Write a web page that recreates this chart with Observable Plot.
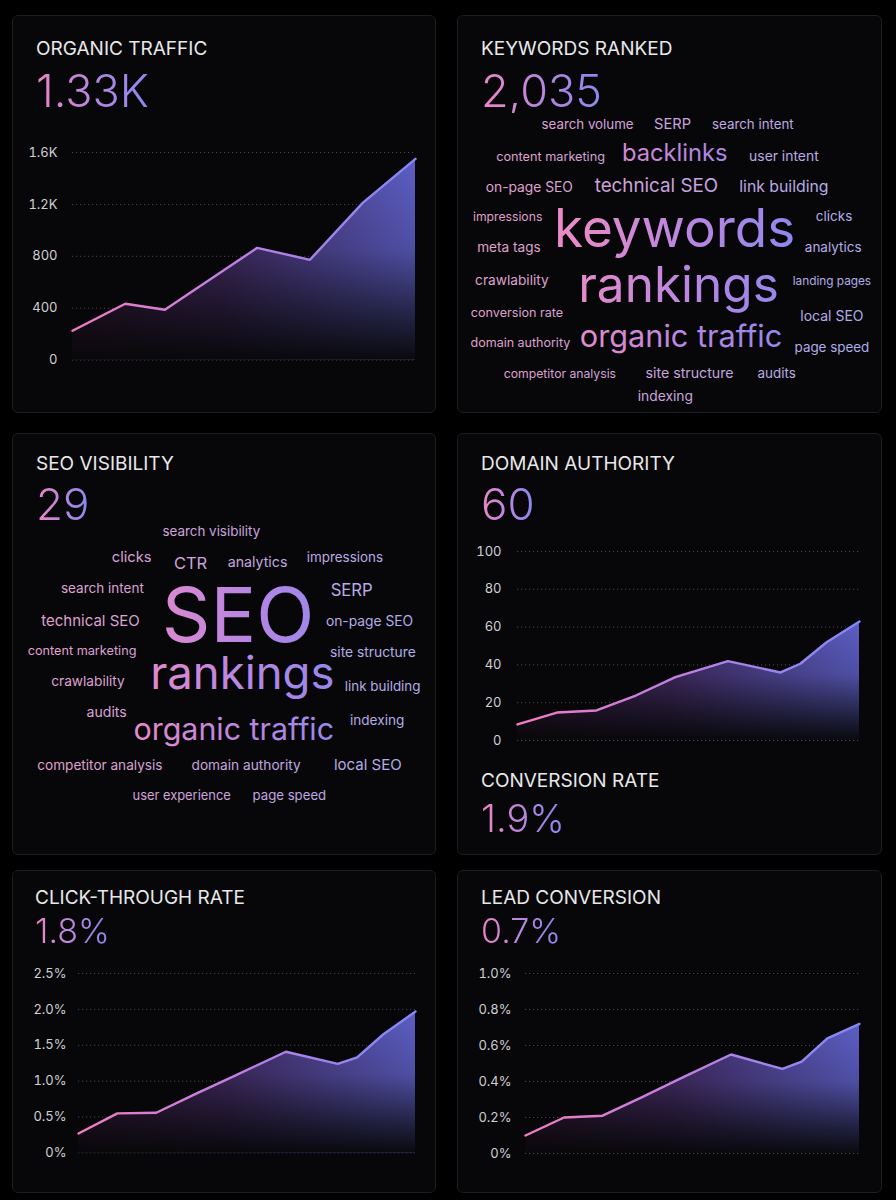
<!DOCTYPE html>
<html><head><meta charset="utf-8">
<script src="https://cdn.jsdelivr.net/npm/d3@7"></script>
<script src="https://cdn.jsdelivr.net/npm/@observablehq/plot@0.6"></script>
<style>
html,body{margin:0;padding:0;background:#000;}
body{width:896px;height:1200px;position:relative;overflow:hidden;font-family:Inter,"Noto Sans",sans-serif;}
.card{position:absolute;background:#070709;border:1px solid #1c1c21;border-radius:6px;box-sizing:border-box;}
.title{position:absolute;color:#e8e8ea;line-height:1;white-space:nowrap;font-weight:400;}
.value{position:absolute;line-height:1;font-weight:300;white-space:nowrap;background:linear-gradient(90deg,#ee86c6 0%,#b486e2 55%,#8a88f0 100%);-webkit-background-clip:text;background-clip:text;color:transparent;}
.plot{position:absolute;}
.plot svg{display:block;overflow:visible;}
</style></head><body>
<script>
// ---------- DATA ----------
const weeks = [0, 6, 12, 18, 24, 32, 40, 43, 47, 52];
const organicWeeks = [0, 8, 14, 28, 36, 44, 52];
const organicTraffic = [226, 434, 388, 865, 773, 1212, 1551];
const domainAuthority = [8.5, 14.8, 15.9, 23.8, 33.5, 42, 36, 40.6, 52, 63];
const clickThroughRate = [0.27, 0.55, 0.56, 0.82, 1.07, 1.41, 1.24, 1.33, 1.65, 1.97];
const leadConversion = [0.10, 0.20, 0.21, 0.31, 0.415, 0.55, 0.47, 0.51, 0.64, 0.72];

const organicTicks = [0, 400, 800, 1200, 1600];
const organicTickLabels = ["0", "400", "800", "1.2K", "1.6K"];
const authorityTicks = [0, 20, 40, 60, 80, 100];
const ctrTicks = [0, 0.5, 1.0, 1.5, 2.0, 2.5];
const ctrTickLabels = ["0%", "0.5%", "1.0%", "1.5%", "2.0%", "2.5%"];
const leadTicks = [0, 0.2, 0.4, 0.6, 0.8, 1.0];
const leadTickLabels = ["0%", "0.2%", "0.4%", "0.6%", "0.8%", "1.0%"];

const kpiTitles = ["ORGANIC TRAFFIC", "KEYWORDS RANKED", "SEO VISIBILITY", "DOMAIN AUTHORITY", "CONVERSION RATE", "CLICK-THROUGH RATE", "LEAD CONVERSION"];
const kpiValues = ["1.33K", "2,035", "29", "60", "1.9%", "1.8%", "0.7%"];

// keyword cloud: word, weight, place in cloud (column %, row %)
const keywordWords = ["search volume","SERP","search intent","content marketing","backlinks","user intent","on-page SEO","technical SEO","link building","impressions","keywords","clicks","meta tags","analytics","crawlability","rankings","landing pages","conversion rate","local SEO","domain authority","organic traffic","page speed","competitor analysis","site structure","audits","indexing"];
const keywordWeights = [13.3,14.6,13.3,12.7,23.7,13.9,13.8,18.8,15.8,12.2,53,13.5,13.6,13.5,13.7,49.5,11.8,12.6,14,12.5,30.7,13.4,12.2,14.2,13.4,13.8];
const keywordCol = [30.6,50.6,69.5,21.9,51.1,76.8,16.9,46.8,76.8,11.8,51.1,88.6,12.1,88.4,12.8,52,88.1,14,88.1,14.8,52.6,88.1,24.1,54.6,75.1,48.9];
const keywordRow = [6.3,6.3,6.3,16.7,16.7,16.7,27.2,27.2,27.2,36.7,45.5,36.7,47,47,58,63.7,58,68.8,70,78.8,78.7,80.5,89.2,89.3,89.3,96.7];

const visibilityWords = ["search visibility","clicks","CTR","analytics","impressions","search intent","SEO","SERP","technical SEO","on-page SEO","content marketing","site structure","crawlability","rankings","link building","audits","organic traffic","indexing","competitor analysis","domain authority","local SEO","user experience","page speed"];
const visibilityWeights = [13.4,14.7,16.5,14.2,13.4,13.5,76,16.7,15,13.8,12.7,13.8,13.7,45.5,13.4,14.1,30.4,13.6,13.6,13.7,15,12.9,13.2];
const visibilityCol = [46.9,28.1,42,57.8,78.4,21.2,53.2,80,18.4,84.2,16.4,85,17.8,54.2,87.3,22.2,52.2,86,20.6,55.1,83.8,39.9,65.3];
const visibilityRow = [5,13.9,16.1,15.6,13.9,24.2,40.6,25.3,35,35,44.8,45.6,55.2,56.1,56.7,65.6,73.3,68,83.3,83.3,83.3,93.1,93.1];

// ---------- LAYOUT HELPERS ----------
function card(left, top, width, height) {
  const d = document.createElement("div");
  d.className = "card";
  Object.assign(d.style, {left: left + "px", top: top + "px", width: width + "px", height: height + "px"});
  document.body.appendChild(d);
}
function text(cls, str, left, baseline, size) {
  const d = document.createElement("div");
  d.className = cls;
  d.textContent = str;
  Object.assign(d.style, {left: left + "px", top: (baseline - 0.864 * size) + "px", fontSize: size + "px"});
  document.body.appendChild(d);
}
function place(svg, left, top) {
  const w = document.createElement("div");
  w.className = "plot";
  Object.assign(w.style, {left: left + "px", top: top + "px"});
  w.appendChild(svg);
  document.body.appendChild(w);
}
function gradient(defs, id, stops, attrs) {
  const g = defs.append("linearGradient").attr("id", id);
  for (const k in attrs) g.attr(k, attrs[k]);
  stops.forEach(([o, c, a]) => g.append("stop").attr("offset", o).attr("stop-color", c).attr("stop-opacity", a == null ? 1 : a));
}

function areaChart(id, xs, ys, o) {
  const data = xs.map((x, i) => ({x, y: ys[i]}));
  const pad = 14;
  const height = (o.yZero - o.yTop) + 2 * pad;
  const svg = Plot.plot({
    width: o.width, height,
    marginLeft: o.gridLeft - o.left, marginRight: o.left + o.width - o.gridRight,
    marginTop: pad, marginBottom: pad,
    style: {background: "transparent", color: "#cfcfd4", fontFamily: "Inter", fontSize: "13px", overflow: "visible"},
    x: {domain: [0, 52], axis: null},
    y: {domain: o.domain, axis: null},
    marks: [
      Plot.gridY(o.ticks, {stroke: "#7a7a86", strokeOpacity: 0.55, strokeDasharray: "1.2,2.8", strokeWidth: 1}),
      Plot.axisY(o.ticks, {tickSize: 0, tickPadding: o.gridLeft - o.labelRight, tickFormat: (d, i) => o.labels[i], fontSize: 13, color: "#cfcfd4", label: null}),
      Plot.areaY(data, {x: "x", y: "y", fill: `url(#${id}-ah)`}),
      Plot.areaY(data, {x: "x", y: "y", fill: `url(#${id}-av)`}),
      Plot.lineY(data, {x: "x", y: "y", stroke: `url(#${id}-ln)`, strokeWidth: 2.4, strokeLinejoin: "round"})
    ]
  });
  const defs = d3.select(svg).insert("defs", ":first-child");
  gradient(defs, id + "-ln", [[0, "#f27cc0"], [0.45, "#c27fe2"], [1, "#8088f4"]], {x1: 0, x2: 1, y1: 0, y2: 0});
  gradient(defs, id + "-ah", [[0, "#3a1838"], [0.45, "#432c66"], [1, "#5d5fc6"]], {x1: 0, x2: 1, y1: 0, y2: 0});
  gradient(defs, id + "-av", [[0, "#070709", 0], [0.45, "#070709", 0.18], [0.8, "#070709", 0.7], [1, "#070709", 0.97]], {x1: 0, x2: 0, y1: 0, y2: 1});
  place(svg, o.left, o.yTop - pad);
}

function wordCloud(id, words, weights, cols, rows, o) {
  const data = words.map((w, i) => ({word: w, weight: weights[i], col: cols[i], row: rows[i]}));
  const big = data.filter(d => d.weight >= 20), small = data.filter(d => d.weight < 20);
  const opts = (fill) => ({x: "col", y: "row", text: "word", fontSize: d => d.weight, lineAnchor: "bottom", textAnchor: "middle", fill});
  const svg = Plot.plot({
    width: o.width, height: o.height, margin: 0,
    style: {background: "transparent", fontFamily: "Inter", overflow: "visible"},
    x: {domain: [0, 100], axis: null},
    y: {domain: [0, 100], axis: null, reverse: true},
    marks: [
      Plot.text(small, opts(`url(#${id}-sm)`)),
      Plot.text(big, opts(`url(#${id}-bg)`))
    ]
  });
  // move each word's translate into x/y so the shared gradient is laid out across the whole cloud
  d3.select(svg).selectAll("text").each(function () {
    const t = this.getAttribute("transform");
    if (!t) return;
    const m = /translate\(([-\d.e]+)[ ,]+([-\d.e]+)\)/.exec(t);
    if (!m) return;
    const x = +m[1] + (+this.getAttribute("x") || 0);
    const y = +m[2] + (+this.getAttribute("y") || 0);
    this.removeAttribute("transform");
    this.setAttribute("x", x);
    this.setAttribute("y", y);
  });
  d3.select(svg).selectAll("g[transform]").each(function () {
    // groups translated by Plot (e.g. offsets) are left as they are
  });
  const defs = d3.select(svg).insert("defs", ":first-child");
  const u = {gradientUnits: "userSpaceOnUse", x1: 0, x2: o.width, y1: 0, y2: 0};
  gradient(defs, id + "-sm", [[0, "#e9a0c8"], [0.5, "#c9a4e0"], [1, "#a9aff2"]], u);
  gradient(defs, id + "-bg", [[0, "#f68ac2"], [0.28, "#e88bc8"], [0.55, "#b886e2"], [0.8, "#8e88ee"], [1, "#7c84f2"]], u);
  place(svg, o.left, o.top);
}

// ---------- CARDS ----------
card(12, 15, 424, 398);
card(457, 15, 425, 398);
card(12, 433, 424, 422);
card(457, 433, 425, 422);
card(12, 870, 424, 323);
card(457, 870, 425, 323);

// titles and values
const titlePos = [[36, 55], [481, 55], [36, 470.7], [481, 470.7], [481, 787], [35, 904], [481, 904]];
const valuePos = [[36, 107.3, 45], [481, 107.3, 45], [36, 520, 44], [481, 520, 44], [481, 831.7, 38], [35, 943.3, 34], [481, 943.3, 34]];
kpiTitles.forEach((t, i) => text("title", t, titlePos[i][0], titlePos[i][1], 19));
kpiValues.forEach((v, i) => text("value", v, valuePos[i][0], valuePos[i][1], valuePos[i][2]));

// ---------- CHARTS ----------
areaChart("org", organicWeeks, organicTraffic, {left: 12, width: 424, gridLeft: 72, gridRight: 415, labelRight: 57, yTop: 151.7, yZero: 359.3, domain: [0, 1600], ticks: organicTicks, labels: organicTickLabels});
areaChart("da", weeks, domainAuthority, {left: 457, width: 425, gridLeft: 517, gridRight: 859, labelRight: 501, yTop: 551, yZero: 740, domain: [0, 100], ticks: authorityTicks, labels: authorityTicks.map(String)});
areaChart("ctr", weeks, clickThroughRate, {left: 12, width: 424, gridLeft: 78, gridRight: 415, labelRight: 66, yTop: 973.3, yZero: 1152.7, domain: [0, 2.5], ticks: ctrTicks, labels: ctrTickLabels});
areaChart("lead", weeks, leadConversion, {left: 457, width: 425, gridLeft: 525, gridRight: 859, labelRight: 511, yTop: 972.7, yZero: 1152.7, domain: [0, 1.0], ticks: leadTicks, labels: leadTickLabels});

wordCloud("kw", keywordWords, keywordWeights, keywordCol, keywordRow, {left: 457, top: 110, width: 425, height: 300});
wordCloud("vis", visibilityWords, visibilityWeights, visibilityCol, visibilityRow, {left: 12, top: 520, width: 424, height: 300});
</script>
</body></html>
